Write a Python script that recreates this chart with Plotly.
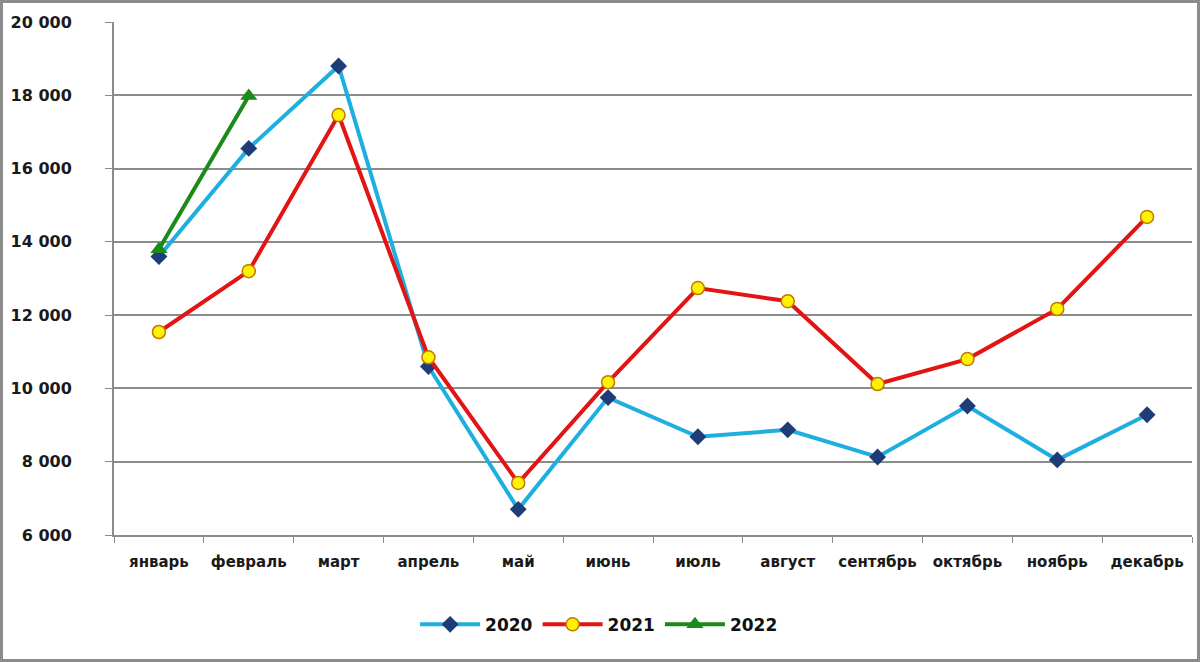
import plotly.graph_objects as go

months = ["январь", "февраль", "март", "апрель", "май", "июнь", "июль",
          "август", "сентябрь", "октябрь", "ноябрь", "декабрь"]
v2020 = [13600, 16550, 18800, 10600, 6700, 9750, 8680, 8870, 8130, 9520, 8050, 9280]
v2021 = [11540, 13200, 17460, 10850, 7420, 10170, 12740, 12380, 10120, 10800, 12170, 14680]
v2022 = [13800, 17980]
y_ticks = [6000, 8000, 10000, 12000, 14000, 16000, 18000, 20000]
y_labels = ["6 000", "8 000", "10 000", "12 000", "14 000", "16 000", "18 000", "20 000"]

W, H = 1200, 662
ml, mr, mt, mb = 114, 8, 22, 127

fig = go.Figure()
fig.add_trace(go.Scatter(
    x=months, y=v2020, name="2020", mode="lines+markers",
    line=dict(color="#1EAEE0", width=4),
    marker=dict(symbol="diamond", size=13, color="#203C78", line=dict(width=0))))
fig.add_trace(go.Scatter(
    x=months, y=v2021, name="2021", mode="lines+markers",
    line=dict(color="#E31414", width=4),
    marker=dict(symbol="circle", size=13, color="#FFF200", line=dict(color="#C07800", width=1.5))))
fig.add_trace(go.Scatter(
    x=months[:len(v2022)], y=v2022, name="2022", mode="lines+markers",
    line=dict(color="#1A8A1A", width=4),
    marker=dict(symbol="triangle-up", size=15, color="#1A8A1A", line=dict(width=0))))

pw = W - ml - mr
ph = H - mt - mb
fig.add_shape(type="rect", xref="paper", yref="paper",
              x0=(1.5 - ml) / pw, x1=(W - ml - 1.5) / pw,
              y0=-(mb - 1.5) / ph, y1=1 + (mt - 1.5) / ph,
              line=dict(color="#8C8C8C", width=3), layer="below")

fig.update_layout(
    width=W, height=H,
    margin=dict(l=ml, r=mr, t=mt, b=mb),
    paper_bgcolor="white", plot_bgcolor="white",
    font=dict(family="DejaVu Sans", size=15, color="#1A1A1A"),
    showlegend=True,
    legend=dict(orientation="h", x=0.45, xanchor="center", y=-0.14, yanchor="top",
                font=dict(size=17, color="#111111", weight="bold"), itemwidth=60,
                traceorder="normal"),
    xaxis=dict(type="category", range=[-0.5, 11.5], showgrid=False,
               showline=True, linecolor="#8C8C8C", linewidth=2,
               ticks="outside", tickson="boundaries", ticklen=6, tickcolor="#8C8C8C",
               tickangle=0, automargin=False,
               tickfont=dict(size=15, color="#1A1A1A", weight="bold"), ticklabelstandoff=12),
    yaxis=dict(range=[6000, 20000], tickvals=y_ticks, ticktext=y_labels,
               showgrid=True, gridcolor="#8C8C8C", gridwidth=1.5,
               showline=True, linecolor="#8C8C8C", linewidth=2,
               ticks="outside", ticklen=7, tickcolor="#8C8C8C", automargin=False,
               tickfont=dict(size=16, color="#1A1A1A", weight="bold"), ticklabelstandoff=30,
               zeroline=False),
)

fig.write_html("out.html", config={"displayModeBar": False},
               post_script="document.body.style.margin='0';document.body.style.overflow='hidden';")
